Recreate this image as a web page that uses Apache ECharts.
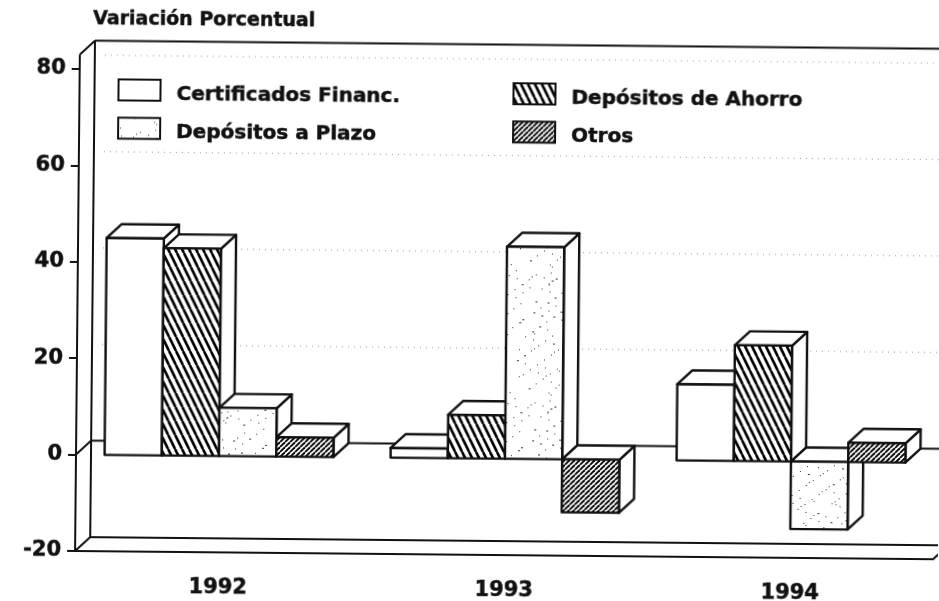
<!DOCTYPE html>
<html>
<head>
<meta charset="utf-8">
<script src="https://cdn.jsdelivr.net/npm/echarts@6/dist/echarts.min.js"></script>
<style>
  html, body { margin: 0; padding: 0; background: #fff; overflow: hidden; }
  /* the scan is a little crooked, so the whole chart is turned */
  #main { width: 939px; height: 601px; transform: rotate(0.55deg); transform-origin: 76px 455px; }
</style>
</head>
<body>
<div id="main"></div>
<script>
var years = ["1992", "1993", "1994"];
var certificados = [45, 2, 15.8];
var ahorro = [43, 9, 24];
var plazo = [10, 44, -14];
var otros = [4, -11, 4];
var gridValues = [20, 40, 60, 80];

var depthX = 15, depthY = -14;
var ink = "#111";
var fontName = "'DejaVu Sans'";

function tile(w, h, draw) {
  var c = document.createElement("canvas");
  c.width = w;
  c.height = h;
  var ctx = c.getContext("2d");
  ctx.fillStyle = "#fff";
  ctx.fillRect(0, 0, w, h);
  draw(ctx);
  return { image: c, repeat: "repeat" };
}
function hatch(w, h, width, down) {
  return tile(w, h, function (ctx) {
    ctx.strokeStyle = "#000";
    ctx.lineWidth = width;
    for (var i = -1; i <= 1; i++) {
      ctx.beginPath();
      if (down) {
        ctx.moveTo(i * w, 0);
        ctx.lineTo(i * w + w, h);
      } else {
        ctx.moveTo(i * w, h);
        ctx.lineTo(i * w + w, 0);
      }
      ctx.stroke();
    }
  });
}
// fixed speckle for the Plazo fill
var dots = tile(128, 128, function (ctx) {
  var s = 7;
  ctx.fillStyle = "#333";
  for (var i = 0; i < 420; i++) {
    s = (s * 1103515245 + 12345) & 0x7fffffff;
    var px = (s >> 8) % 128;
    s = (s * 1103515245 + 12345) & 0x7fffffff;
    var py = (s >> 8) % 128;
    ctx.fillRect(px, py, i % 9 === 0 ? 2 : 1, 1);
  }
});

function renderBar(params, api) {
  var idx = api.value(0), v = api.value(1);
  var bw = api.size([1, 0])[0] * 0.2;
  var c0 = api.coord([idx, 0]), c1 = api.coord([idx, v]);
  var x0 = c0[0] + (params.seriesIndex - 3) * bw; // frame series is index 0
  var x1 = x0 + bw;
  var yTop = Math.min(c0[1], c1[1]), yBot = Math.max(c0[1], c1[1]);
  var line = { stroke: ink, lineWidth: 2.4, lineJoin: "round" };
  function poly(points, fill) {
    return { type: "polygon", shape: { points: points }, style: Object.assign({ fill: fill }, line) };
  }
  return {
    type: "group",
    children: [
      poly([[x1, yTop], [x1 + depthX, yTop + depthY], [x1 + depthX, yBot + depthY], [x1, yBot]], "#fff"),
      poly([[x0, yTop], [x0 + depthX, yTop + depthY], [x1 + depthX, yTop + depthY], [x1, yTop]], "#fff"),
      poly([[x0, yTop], [x1, yTop], [x1, yBot], [x0, yBot]], api.visual("color"))
    ]
  };
}

function renderFrame(params, api) {
  var band = api.size([1, 0])[0];
  var left = api.coord([0, 0])[0] - band / 2;
  var right = left + band * years.length;
  var top = api.coord([0, 83])[1], zero = api.coord([0, 0])[1], bottom = api.coord([0, -20])[1];
  var solid = { stroke: ink, lineWidth: 2 };
  function seg(x1, y1, x2, y2, style) {
    return { type: "line", shape: { x1: x1, y1: y1, x2: x2, y2: y2 }, style: style || solid };
  }
  var kids = [
    seg(left, top, left, bottom),
    seg(left, top, left + depthX, top + depthY),
    seg(left + depthX, top + depthY, left + depthX, bottom + depthY),
    seg(left + depthX, top + depthY, right + depthX, top + depthY),
    seg(left, bottom, left + depthX, bottom + depthY),
    seg(left + depthX, bottom + depthY, right + depthX, bottom + depthY),
    seg(right, bottom, right + depthX, bottom + depthY),
    seg(left, zero, left + depthX, zero + depthY),
    seg(left + depthX, zero + depthY, right + depthX, zero + depthY)
  ];
  gridValues.forEach(function (g) {
    var y = api.coord([0, g])[1] + depthY;
    kids.push(seg(left + depthX + 10, y, right + depthX, y, { stroke: "#999", lineWidth: 1, lineDash: [1, 5] }));
  });
  return { type: "group", children: kids };
}

function barSeries(name, values, fill) {
  return {
    name: name,
    type: "custom",
    renderItem: renderBar,
    itemStyle: { color: fill, borderColor: ink, borderWidth: 2 },
    data: values.map(function (v, i) { return [i, v]; })
  };
}

var boldText = { fontFamily: fontName, fontWeight: "bold", color: ink, textBorderColor: ink, textBorderWidth: 0.5 };
// text sits a few pixels lower than its swatch, rich padding pushes it down
var legendText = {
  padding: [0, 0, 0, 11],
  rich: { t: Object.assign({ fontSize: 20, padding: [9, 0, 0, 0] }, boldText) }
};
function legendLabel(name) { return "{t|" + name + "}"; }

var myChart = echarts.init(document.getElementById("main"));
myChart.setOption({
  animation: false,
  backgroundColor: "#fff",
  title: {
    text: "Variación Porcentual",
    left: 89,
    top: 10,
    padding: 0,
    textStyle: Object.assign({ fontSize: 19 }, boldText)
  },
  legend: [
    {
      data: ["Certificados Financ.", "Depósitos a Plazo"],
      orient: "vertical",
      left: 114,
      top: 78,
      padding: 0,
      icon: "rect",
      itemWidth: 42,
      itemHeight: 21,
      itemGap: 12,
      formatter: legendLabel,
      textStyle: legendText
    },
    {
      data: ["Depósitos de Ahorro", "Otros"],
      orient: "vertical",
      left: 509,
      top: 78,
      padding: 0,
      icon: "rect",
      itemWidth: 42,
      itemHeight: 21,
      itemGap: 12,
      formatter: legendLabel,
      textStyle: legendText
    }
  ],
  grid: { left: 76, top: 69, width: 858, bottom: 50 },
  xAxis: {
    type: "category",
    data: years,
    axisLine: { onZero: false, lineStyle: { color: ink, width: 2 } },
    axisTick: { alignWithLabel: true, length: 9, lineStyle: { color: ink, width: 2 } },
    axisLabel: Object.assign({ margin: 25, fontSize: 21 }, boldText)
  },
  yAxis: {
    type: "value",
    min: -20,
    max: 80,
    interval: 20,
    splitLine: { show: false },
    axisLine: { show: true, lineStyle: { color: ink, width: 2 } },
    axisTick: { show: true, length: 8, lineStyle: { color: ink, width: 2 } },
    axisLabel: Object.assign({ margin: 14, fontSize: 21 }, boldText)
  },
  series: [
    { type: "custom", renderItem: renderFrame, silent: true, data: [[0, 0]] },
    barSeries("Certificados Financ.", certificados, "#fff"),
    barSeries("Depósitos de Ahorro", ahorro, hatch(7, 14, 2.6, true)),
    barSeries("Depósitos a Plazo", plazo, dots),
    barSeries("Otros", otros, hatch(5, 5, 1.9, false))
  ]
});
</script>
</body>
</html>
